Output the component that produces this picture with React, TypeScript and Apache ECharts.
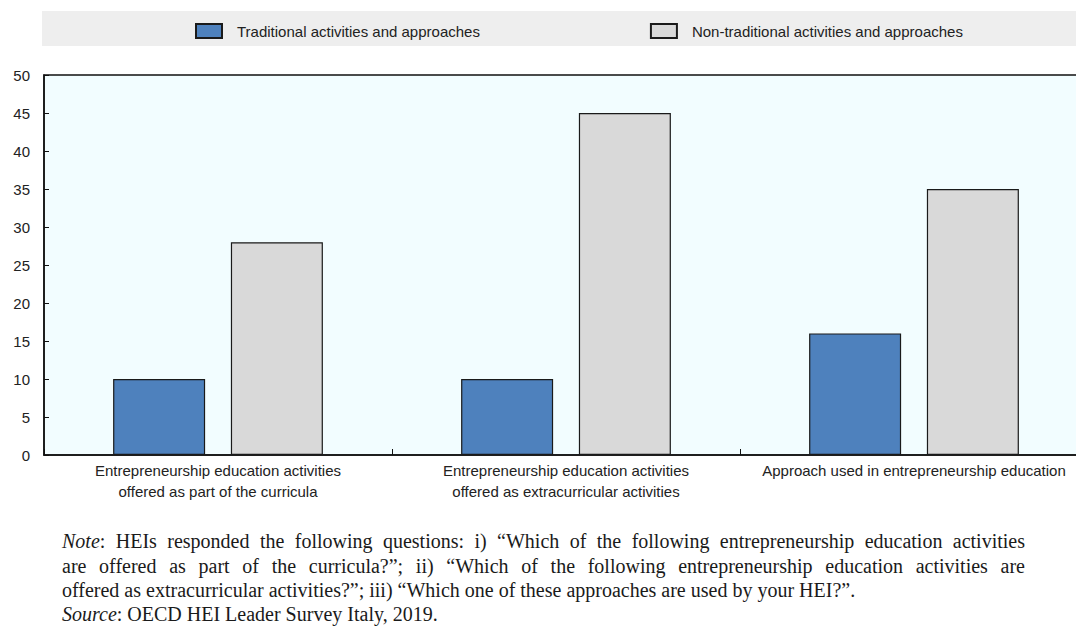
import React, { useEffect, useRef } from "react";
import * as echarts from "echarts";

const categories = [
  "Entrepreneurship education activities\noffered as part of the curricula",
  "Entrepreneurship education activities\noffered as extracurricular activities",
  "Approach used in entrepreneurship education",
];
const seriesNames = ["Traditional activities and approaches", "Non-traditional activities and approaches"];
const traditional = [10, 10, 16];
const nonTraditional = [28, 45, 35];
const yTicks = { min: 0, max: 50, interval: 5 };

const noteLines = [
  { text: "Note: HEIs responded the following questions: i) “Which of the following entrepreneurship education activities", justify: true },
  { text: "are offered as part of the curricula?”; ii) “Which of the following entrepreneurship education activities are", justify: true },
  { text: "offered as extracurricular activities?”; iii) “Which one of these approaches are used by your HEI?”.", justify: false },
  { text: "Source: OECD HEI Leader Survey Italy, 2019.", justify: false },
];
const italicWords = ["Note", "Source"];

const SANS = "'Liberation Sans', Arial, sans-serif";
const SERIF_SIZE = 20;
const SERIF = "'Liberation Serif', 'Times New Roman', serif";

function buildNote(): any[] {
  const canvas = document.createElement("canvas");
  const ctx = canvas.getContext("2d")!;
  const measure = (t: string, it: boolean) => {
    ctx.font = (it ? "italic " : "") + SERIF_SIZE + "px " + SERIF;
    return ctx.measureText(t).width;
  };
  const x0 = 62;
  const x1 = 1025;
  const ys = [541, 566, 590, 614];
  const els: any[] = [];
  noteLines.forEach((line, li) => {
    const words = line.text.split(" ");
    const segs = words.map((w) => {
      const iw = italicWords.find((p) => w.startsWith(p + ":"));
      if (iw) return [{ t: iw, it: true }, { t: w.slice(iw.length), it: false }];
      return [{ t: w, it: false }];
    });
    const widths = segs.map((s) => s.reduce((a, g) => a + measure(g.t, g.it), 0));
    const total = widths.reduce((a, b) => a + b, 0);
    const gap = line.justify && words.length > 1 ? (x1 - x0 - total) / (words.length - 1) : measure(" ", false);
    let x = x0;
    segs.forEach((s, wi) => {
      let sx = x;
      s.forEach((g) => {
        els.push({
          type: "text",
          x: sx,
          y: ys[li],
          silent: true,
          style: {
            text: g.t,
            fill: "#1a1a1a",
            fontFamily: SERIF,
            fontSize: SERIF_SIZE,
            fontStyle: g.it ? "italic" : "normal",
            verticalAlign: "middle",
            align: "left",
          },
        });
        sx += measure(g.t, g.it);
      });
      x += widths[wi] + gap;
    });
  });
  return els;
}

export default function App() {
  const ref = useRef<HTMLDivElement>(null);
  useEffect(() => {
    document.body.style.margin = "0";
    const chart = echarts.init(ref.current!, undefined, { renderer: "svg" });
    const barStyle = (color: string) => ({ color, borderColor: "#1a1a1a", borderWidth: 1.2 });
    chart.setOption({
      animation: false,
      backgroundColor: "#ffffff",
      grid: {
        left: 44,
        top: 75,
        width: 1044,
        height: 380,
        show: true,
        backgroundColor: "#f2fdff",
        borderColor: "#111",
        borderWidth: 1.5,
        containLabel: false,
        outerBoundsMode: "none",
      },
      legend: {
        left: 195,
        top: 23,
        padding: 0,
        itemWidth: 26,
        itemHeight: 14,
        itemGap: 170,
        icon: "rect",
        selectedMode: false,
        textStyle: { fontFamily: SANS, fontSize: 15, color: "#222", padding: [0, 0, 0, 10] },
        data: seriesNames,
      },
      graphic: [
        {
          type: "rect",
          z: -10,
          silent: true,
          shape: { x: 42, y: 11, width: 1034, height: 35 },
          style: { fill: "#eeeeee" },
        },
        ...buildNote(),
      ],
      xAxis: {
        type: "category",
        data: categories,
        axisLine: { lineStyle: { color: "#111", width: 1.5 } },
        axisTick: { show: true, inside: true, length: 6, lineStyle: { color: "#111" } },
        axisLabel: {
          fontFamily: SANS,
          fontSize: 15,
          color: "#222",
          margin: 5,
          lineHeight: 21,
          interval: 0,
        },
      },
      yAxis: {
        type: "value",
        min: yTicks.min,
        max: yTicks.max,
        interval: yTicks.interval,
        splitLine: { show: false },
        axisLine: { show: true, lineStyle: { color: "#111", width: 1.5 } },
        axisTick: { show: true, inside: true, length: 5, lineStyle: { color: "#111" } },
        axisLabel: { fontFamily: SANS, fontSize: 15, color: "#222", margin: 14 },
      },
      series: [
        {
          name: seriesNames[0],
          type: "bar",
          data: traditional,
          barWidth: 92,
          barGap: "28%",
          itemStyle: barStyle("#4e81bd"),
        },
        {
          name: seriesNames[1],
          type: "bar",
          data: nonTraditional,
          barWidth: 92,
          itemStyle: barStyle("#d9d9d9"),
        },
      ],
    });
    return () => chart.dispose();
  }, []);
  return <div ref={ref} style={{ width: 1076, height: 627 }} />;
}
